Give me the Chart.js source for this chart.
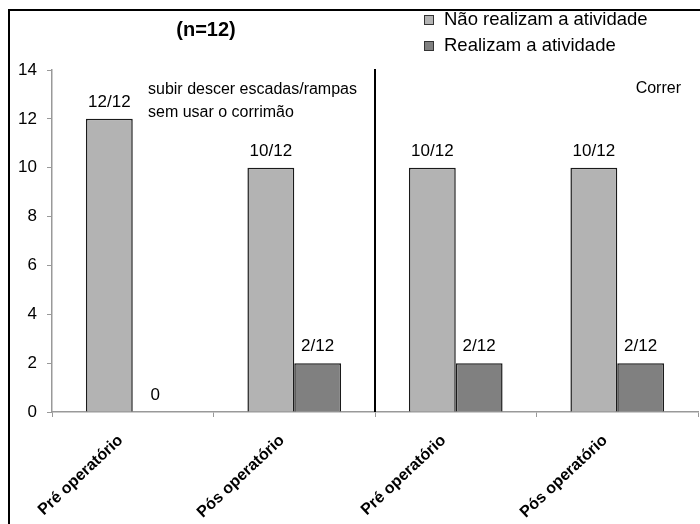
<!DOCTYPE html>
<html>
<head>
<meta charset="utf-8">
<script src="https://cdn.jsdelivr.net/npm/chart.js@4"></script>
<style>
  body { margin: 0; background: #fff; }
  canvas { display: block; }
</style>
</head>
<body>
<canvas id="chart" width="700" height="524"></canvas>
<script>
// data
const categories = ["Pré operatório", "Pós operatório", "Pré operatório", "Pós operatório"];
const naoRealizam = [12, 10, 10, 10];
const realizam = [0, 2, 2, 2];
const naoLabels = ["12/12", "10/12", "10/12", "10/12"];
const realizamLabels = ["0", "2/12", "2/12", "2/12"];
const seriesNames = ["Não realizam a atividade", "Realizam a atividade"];
const yTicks = [0, 2, 4, 6, 8, 10, 12, 14];

const FONT = "'Liberation Sans', Arial, sans-serif";

// frame, title, legend, group texts, divider and bar labels
const extrasPlugin = {
  id: "extras",
  afterDraw(chart) {
    const ctx = chart.ctx;
    const x = chart.scales.x;
    const y = chart.scales.y;

    ctx.save();
    // outer frame (only top and left are visible in the crop)
    ctx.strokeStyle = "#000";
    ctx.lineWidth = 2;
    ctx.beginPath();
    ctx.moveTo(9, chart.height);
    ctx.lineTo(9, 10);
    ctx.lineTo(chart.width, 10);
    ctx.stroke();

    // divider between the two activities
    const divX = Math.round((x.getPixelForValue(1) + x.getPixelForValue(2)) / 2);
    ctx.lineWidth = 2;
    ctx.beginPath();
    ctx.moveTo(divX, y.getPixelForValue(14) - 1);
    ctx.lineTo(divX, y.getPixelForValue(0));
    ctx.stroke();

    // title
    ctx.fillStyle = "#000";
    ctx.font = "bold 20px " + FONT;
    ctx.textAlign = "center";
    ctx.textBaseline = "middle";
    ctx.fillText("(n=12)", 206, 30);

    // legend
    const colors = ["#b3b3b3", "#808080"];
    ctx.font = "18.5px " + FONT;
    ctx.textAlign = "left";
    seriesNames.forEach((name, i) => {
      const ly = 20 + i * 26;
      ctx.fillStyle = colors[i];
      ctx.fillRect(424, ly - 5, 10, 10);
      ctx.strokeStyle = "#333";
      ctx.lineWidth = 1;
      ctx.strokeRect(424.5, ly - 4.5, 9, 9);
      ctx.fillStyle = "#000";
      ctx.fillText(name, 444, ly);
    });

    // activity names
    ctx.font = "16px " + FONT;
    ctx.textBaseline = "alphabetic";
    ctx.fillText("subir descer escadas/rampas", 148, 94);
    ctx.fillText("sem usar o corrimão", 148, 117);
    ctx.textAlign = "right";
    ctx.fillText("Correr", 681, 93);

    // value labels above bars
    ctx.font = "17px " + FONT;
    ctx.textAlign = "center";
    const texts = [naoLabels, realizamLabels];
    chart.data.datasets.forEach((ds, di) => {
      chart.getDatasetMeta(di).data.forEach((bar, i) => {
        const txt = texts[di][i];
        const bx = di === 1 && ds.data[i] === 0 ? bar.x - 1 : bar.x;
        ctx.fillText(txt, bx, bar.y - 12);
      });
    });
    ctx.restore();
  }
};

new Chart(document.getElementById("chart"), {
  type: "bar",
  data: {
    labels: categories,
    datasets: [
      {
        label: seriesNames[0],
        data: naoRealizam,
        backgroundColor: "#b3b3b3",
        borderColor: "#1a1a1a",
        borderWidth: 1.5,
        borderSkipped: "bottom",
        categoryPercentage: 0.58,
        barPercentage: 1.0
      },
      {
        label: seriesNames[1],
        data: realizam,
        backgroundColor: "#808080",
        borderColor: "#1a1a1a",
        borderWidth: 1.5,
        borderSkipped: "bottom",
        categoryPercentage: 0.58,
        barPercentage: 1.0
      }
    ]
  },
  options: {
    responsive: false,
    animation: false,
    layout: { padding: { top: 70, right: 2, left: 0, bottom: 0 } },
    plugins: {
      legend: { display: false },
      title: { display: false },
      tooltip: { enabled: false }
    },
    scales: {
      x: {
        border: { color: "#999", width: 1.5 },
        grid: { drawOnChartArea: false, drawTicks: true, tickLength: 5, color: "#999" },
        ticks: {
          color: "#000",
          font: { family: FONT, size: 16, weight: "bold" },
          minRotation: 43,
          maxRotation: 43,
          autoSkip: false,
          padding: 14,
          labelOffset: -12
        },
        afterFit(scale) { scale.height = 112; }
      },
      y: {
        min: 0,
        max: 14,
        afterBuildTicks(scale) { scale.ticks = yTicks.map((v) => ({ value: v })); },
        border: { color: "#999", width: 1.5 },
        grid: { drawOnChartArea: false, drawTicks: true, tickLength: 5, color: "#999" },
        ticks: {
          color: "#000",
          font: { family: FONT, size: 17 },
          padding: 10
        },
        afterFit(scale) { scale.width = 52; }
      }
    }
  },
  plugins: [extrasPlugin]
});
</script>
</body>
</html>
